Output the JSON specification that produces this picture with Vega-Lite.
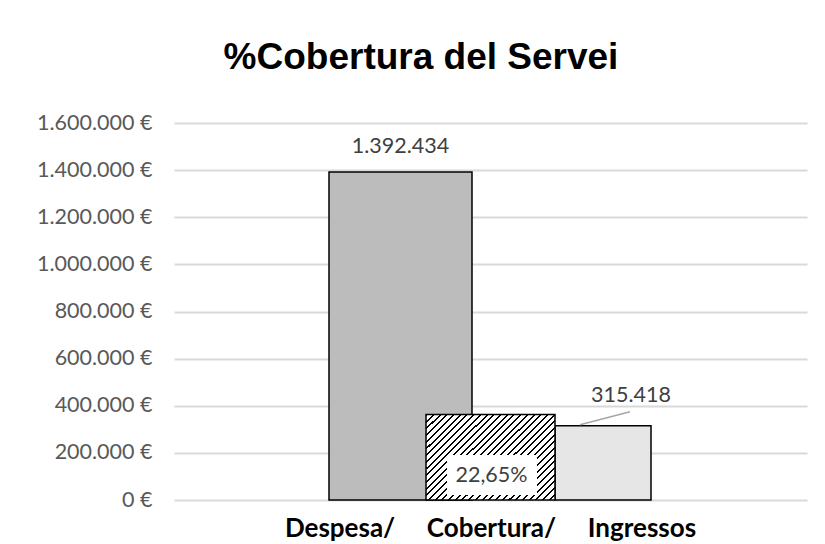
{
  "$schema": "https://vega.github.io/schema/vega-lite/v6.json",
  "width": 633,
  "height": 377,
  "autosize": {"type": "none"},
  "padding": {"left": 174, "top": 123, "right": 18, "bottom": 44},
  "background": "white",
  "config": {
    "locale": {"number": {"decimal": ",", "thousands": ".", "grouping": [3], "currency": ["", " €"]}},
    "view": {"stroke": null},
    "font": "Lato"
  },
  "title": {
    "text": "%Cobertura del Servei",
    "font": "Liberation Sans",
    "fontSize": 37,
    "fontWeight": "bold",
    "color": "#000000",
    "anchor": "middle",
    "frame": "group",
    "dx": -69.5,
    "baseline": "alphabetic",
    "offset": 6
  },
  "data": {
    "values": [
      {"cat": "Despesa/\u00a0\u00a0\u00a0\u00a0\u00a0Cobertura/\u00a0\u00a0\u00a0\u00a0\u00a0Ingressos", "serie": "Despesa", "import": 1392434},
      {"cat": "Despesa/\u00a0\u00a0\u00a0\u00a0\u00a0Cobertura/\u00a0\u00a0\u00a0\u00a0\u00a0Ingressos", "serie": "Ingressos", "import": 315418},
      {"cat": "Despesa/\u00a0\u00a0\u00a0\u00a0\u00a0Cobertura/\u00a0\u00a0\u00a0\u00a0\u00a0Ingressos", "serie": "Cobertura", "pct": 0.2265}
    ]
  },
  "resolve": {"scale": {"y": "independent"}},
  "layer": [
    {
      "transform": [{"filter": "datum.serie === 'Despesa'"}],
      "mark": {"type": "bar", "width": 143, "xOffset": -90, "fill": "#bcbcbc", "stroke": "#000000", "strokeWidth": 1.5},
      "encoding": {
        "x": {
          "field": "cat", "type": "nominal", "title": null,
          "axis": {"domain": false, "ticks": false, "tickSize": 0, "labelAngle": 0, "labelPadding": 36, "labelBaseline": "alphabetic", "labelFont": "Lato", "labelFontWeight": "bold", "labelFontSize": 26, "labelColor": "#000000", "labelLimit": 0, "grid": false}
        },
        "y": {
          "field": "import", "type": "quantitative", "title": null,
          "scale": {"domain": [0, 1600000], "nice": false},
          "axis": {"values": [0, 200000, 400000, 600000, 800000, 1000000, 1200000, 1400000, 1600000], "format": "$,.0f", "domain": false, "ticks": false, "tickSize": 0, "labelPadding": 22, "labelFont": "Lato", "labelFontSize": 21.5, "labelColor": "#595959", "gridColor": "#d9d9d9", "gridWidth": 2, "grid": true}
        }
      }
    },
    {
      "transform": [{"filter": "datum.serie === 'Ingressos'"}],
      "mark": {"type": "bar", "width": 96, "xOffset": 112.5, "fill": "#e6e6e6", "stroke": "#000000", "strokeWidth": 1.5},
      "encoding": {
        "x": {"field": "cat", "type": "nominal"},
        "y": {"field": "import", "type": "quantitative", "scale": {"domain": [0, 1600000], "nice": false}, "axis": null}
      }
    },
    {
      "transform": [{"filter": "datum.serie === 'Despesa'"}],
      "mark": {"type": "text", "xOffset": -90, "yOffset": -19, "baseline": "alphabetic", "align": "center", "font": "Lato", "fontSize": 21.5, "color": "#404040"},
      "encoding": {
        "x": {"field": "cat", "type": "nominal"},
        "y": {"field": "import", "type": "quantitative", "scale": {"domain": [0, 1600000], "nice": false}, "axis": null},
        "text": {"field": "import", "type": "quantitative", "format": ",.0f"}
      }
    },
    {
      "transform": [{"filter": "datum.serie === 'Ingressos'"}],
      "mark": {"type": "text", "xOffset": 140.5, "yOffset": -24, "baseline": "alphabetic", "align": "center", "font": "Lato", "fontSize": 21.5, "color": "#404040"},
      "encoding": {
        "x": {"field": "cat", "type": "nominal"},
        "y": {"field": "import", "type": "quantitative", "scale": {"domain": [0, 1600000], "nice": false}, "axis": null},
        "text": {"field": "import", "type": "quantitative", "format": ",.0f"}
      }
    },
    {
      "transform": [{"filter": "datum.serie === 'Ingressos'"}],
      "mark": {"type": "rule", "xOffset": 139.5, "x2Offset": 89.5, "yOffset": -14, "y2Offset": -1, "stroke": "#a6a6a6", "strokeWidth": 1.5},
      "encoding": {
        "x": {"field": "cat", "type": "nominal"},
        "x2": {"field": "cat"},
        "y": {"field": "import", "type": "quantitative", "scale": {"domain": [0, 1600000], "nice": false}, "axis": null},
        "y2": {"field": "import"}
      }
    },
    {
      "transform": [{"filter": "datum.serie === 'Cobertura'"}],
      "mark": {
        "type": "bar", "width": 129, "xOffset": 0, "stroke": "#000000", "strokeWidth": 1.5,
        "fill": {
          "gradient": "linear", "x1": 0, "y1": 0, "x2": 1.154, "y2": 0.769,
          "stops": [
            {"offset": 0, "color": "#000000"}, {"offset": 0.009375, "color": "#000000"}, {"offset": 0.009375, "color": "#ffffff"}, {"offset": 0.03125, "color": "#ffffff"},
            {"offset": 0.03125, "color": "#000000"}, {"offset": 0.040625, "color": "#000000"}, {"offset": 0.040625, "color": "#ffffff"}, {"offset": 0.0625, "color": "#ffffff"},
            {"offset": 0.0625, "color": "#000000"}, {"offset": 0.071875, "color": "#000000"}, {"offset": 0.071875, "color": "#ffffff"}, {"offset": 0.09375, "color": "#ffffff"},
            {"offset": 0.09375, "color": "#000000"}, {"offset": 0.103125, "color": "#000000"}, {"offset": 0.103125, "color": "#ffffff"}, {"offset": 0.125, "color": "#ffffff"},
            {"offset": 0.125, "color": "#000000"}, {"offset": 0.134375, "color": "#000000"}, {"offset": 0.134375, "color": "#ffffff"}, {"offset": 0.15625, "color": "#ffffff"},
            {"offset": 0.15625, "color": "#000000"}, {"offset": 0.165625, "color": "#000000"}, {"offset": 0.165625, "color": "#ffffff"}, {"offset": 0.1875, "color": "#ffffff"},
            {"offset": 0.1875, "color": "#000000"}, {"offset": 0.196875, "color": "#000000"}, {"offset": 0.196875, "color": "#ffffff"}, {"offset": 0.21875, "color": "#ffffff"},
            {"offset": 0.21875, "color": "#000000"}, {"offset": 0.228125, "color": "#000000"}, {"offset": 0.228125, "color": "#ffffff"}, {"offset": 0.25, "color": "#ffffff"},
            {"offset": 0.25, "color": "#000000"}, {"offset": 0.259375, "color": "#000000"}, {"offset": 0.259375, "color": "#ffffff"}, {"offset": 0.28125, "color": "#ffffff"},
            {"offset": 0.28125, "color": "#000000"}, {"offset": 0.290625, "color": "#000000"}, {"offset": 0.290625, "color": "#ffffff"}, {"offset": 0.3125, "color": "#ffffff"},
            {"offset": 0.3125, "color": "#000000"}, {"offset": 0.321875, "color": "#000000"}, {"offset": 0.321875, "color": "#ffffff"}, {"offset": 0.34375, "color": "#ffffff"},
            {"offset": 0.34375, "color": "#000000"}, {"offset": 0.353125, "color": "#000000"}, {"offset": 0.353125, "color": "#ffffff"}, {"offset": 0.375, "color": "#ffffff"},
            {"offset": 0.375, "color": "#000000"}, {"offset": 0.384375, "color": "#000000"}, {"offset": 0.384375, "color": "#ffffff"}, {"offset": 0.40625, "color": "#ffffff"},
            {"offset": 0.40625, "color": "#000000"}, {"offset": 0.415625, "color": "#000000"}, {"offset": 0.415625, "color": "#ffffff"}, {"offset": 0.4375, "color": "#ffffff"},
            {"offset": 0.4375, "color": "#000000"}, {"offset": 0.446875, "color": "#000000"}, {"offset": 0.446875, "color": "#ffffff"}, {"offset": 0.46875, "color": "#ffffff"},
            {"offset": 0.46875, "color": "#000000"}, {"offset": 0.478125, "color": "#000000"}, {"offset": 0.478125, "color": "#ffffff"}, {"offset": 0.5, "color": "#ffffff"},
            {"offset": 0.5, "color": "#000000"}, {"offset": 0.509375, "color": "#000000"}, {"offset": 0.509375, "color": "#ffffff"}, {"offset": 0.53125, "color": "#ffffff"},
            {"offset": 0.53125, "color": "#000000"}, {"offset": 0.540625, "color": "#000000"}, {"offset": 0.540625, "color": "#ffffff"}, {"offset": 0.5625, "color": "#ffffff"},
            {"offset": 0.5625, "color": "#000000"}, {"offset": 0.571875, "color": "#000000"}, {"offset": 0.571875, "color": "#ffffff"}, {"offset": 0.59375, "color": "#ffffff"},
            {"offset": 0.59375, "color": "#000000"}, {"offset": 0.603125, "color": "#000000"}, {"offset": 0.603125, "color": "#ffffff"}, {"offset": 0.625, "color": "#ffffff"},
            {"offset": 0.625, "color": "#000000"}, {"offset": 0.634375, "color": "#000000"}, {"offset": 0.634375, "color": "#ffffff"}, {"offset": 0.65625, "color": "#ffffff"},
            {"offset": 0.65625, "color": "#000000"}, {"offset": 0.665625, "color": "#000000"}, {"offset": 0.665625, "color": "#ffffff"}, {"offset": 0.6875, "color": "#ffffff"},
            {"offset": 0.6875, "color": "#000000"}, {"offset": 0.696875, "color": "#000000"}, {"offset": 0.696875, "color": "#ffffff"}, {"offset": 0.71875, "color": "#ffffff"},
            {"offset": 0.71875, "color": "#000000"}, {"offset": 0.728125, "color": "#000000"}, {"offset": 0.728125, "color": "#ffffff"}, {"offset": 0.75, "color": "#ffffff"},
            {"offset": 0.75, "color": "#000000"}, {"offset": 0.759375, "color": "#000000"}, {"offset": 0.759375, "color": "#ffffff"}, {"offset": 0.78125, "color": "#ffffff"},
            {"offset": 0.78125, "color": "#000000"}, {"offset": 0.790625, "color": "#000000"}, {"offset": 0.790625, "color": "#ffffff"}, {"offset": 0.8125, "color": "#ffffff"},
            {"offset": 0.8125, "color": "#000000"}, {"offset": 0.821875, "color": "#000000"}, {"offset": 0.821875, "color": "#ffffff"}, {"offset": 0.84375, "color": "#ffffff"},
            {"offset": 0.84375, "color": "#000000"}, {"offset": 0.853125, "color": "#000000"}, {"offset": 0.853125, "color": "#ffffff"}, {"offset": 0.875, "color": "#ffffff"},
            {"offset": 0.875, "color": "#000000"}, {"offset": 0.884375, "color": "#000000"}, {"offset": 0.884375, "color": "#ffffff"}, {"offset": 0.90625, "color": "#ffffff"},
            {"offset": 0.90625, "color": "#000000"}, {"offset": 0.915625, "color": "#000000"}, {"offset": 0.915625, "color": "#ffffff"}, {"offset": 0.9375, "color": "#ffffff"},
            {"offset": 0.9375, "color": "#000000"}, {"offset": 0.946875, "color": "#000000"}, {"offset": 0.946875, "color": "#ffffff"}, {"offset": 0.96875, "color": "#ffffff"},
            {"offset": 0.96875, "color": "#000000"}, {"offset": 0.978125, "color": "#000000"}, {"offset": 0.978125, "color": "#ffffff"}, {"offset": 1, "color": "#ffffff"}
          ]
        }
      },
      "encoding": {
        "x": {"field": "cat", "type": "nominal"},
        "y": {"field": "pct", "type": "quantitative", "scale": {"domain": [0, 1], "nice": false}, "axis": null}
      }
    },
    {
      "transform": [{"filter": "datum.serie === 'Cobertura'"}],
      "mark": {"type": "bar", "width": 90, "xOffset": 1.5, "yOffset": -5, "y2Offset": -45, "fill": "#ffffff", "stroke": null},
      "encoding": {
        "x": {"field": "cat", "type": "nominal"},
        "y": {"datum": 0, "type": "quantitative", "scale": {"domain": [0, 1], "nice": false}, "axis": null},
        "y2": {"datum": 0}
      }
    },
    {
      "transform": [{"filter": "datum.serie === 'Cobertura'"}],
      "mark": {"type": "text", "xOffset": 1, "yOffset": -18, "baseline": "alphabetic", "align": "center", "font": "Lato", "fontSize": 21.5, "color": "#404040"},
      "encoding": {
        "x": {"field": "cat", "type": "nominal"},
        "y": {"datum": 0, "type": "quantitative", "scale": {"domain": [0, 1], "nice": false}, "axis": null},
        "text": {"field": "pct", "type": "quantitative", "format": ".2%"}
      }
    }
  ]
}
